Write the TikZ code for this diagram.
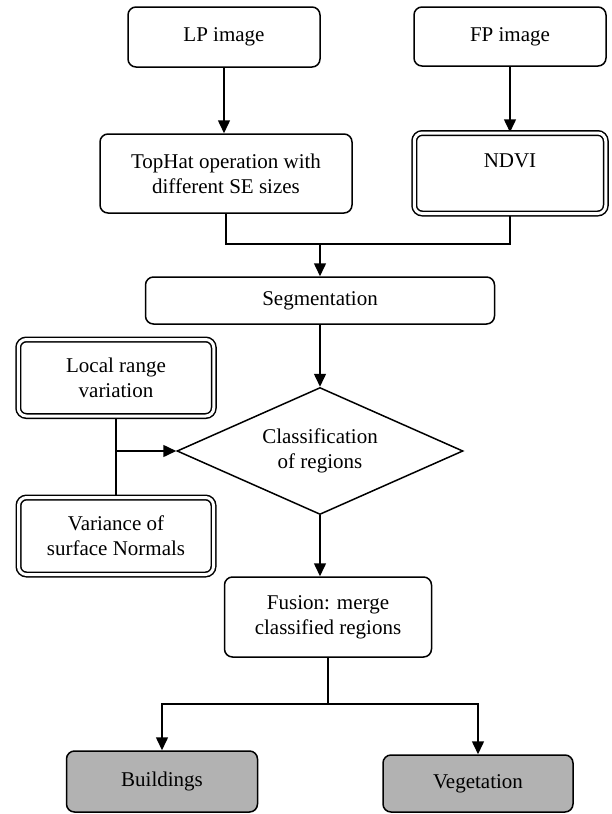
\documentclass[tikz,border=0pt]{standalone}
\usepackage{fontspec}
\setmainfont{Liberation Serif}
\usetikzlibrary{shapes.geometric,arrows.meta,backgrounds}
\begin{document}
\begin{tikzpicture}[x=1pt,y=-1pt,
  every node/.style={font=\fontsize{21}{25}\selectfont, inner sep=0pt, align=center},
  proc/.style={draw, fill=white, rounded corners=8pt, line width=1.5pt},
  dbl/.style={proc, double, double distance=3pt},
  res/.style={proc, fill=gray!60},
  conn/.style={line width=1.5pt},
  arr/.style={conn, -{Triangle[length=13pt,width=12pt]}}]
\useasboundingbox (0,0) rectangle (611,814);

\node[proc, minimum width=192pt, minimum height=60pt] (lp) at (224,37) {LP image};
\node[proc, minimum width=192pt, minimum height=59pt] (fp) at (510,36.5) {FP image};
\node[proc, minimum width=252pt, minimum height=79pt] (top) at (226,173.5) {TopHat operation with\\different SE sizes};
\node[dbl, minimum width=191.5pt, minimum height=80.5pt] (ndvi) at (510,173.25) {NDVI\\\mbox{}};
\node[proc, minimum width=349pt, minimum height=47pt] (seg) at (320,300.5) {Segmentation};
\node[dbl, minimum width=195.5pt, minimum height=76.5pt] (loc) at (116,377.75) {Local range\\variation};
\node[dbl, minimum width=195pt, minimum height=77pt] (var) at (116,536) {Variance of\\surface Normals};
\node[diamond, aspect=2.25, draw, fill=white, line width=1.5pt, minimum width=286pt, minimum height=127pt] (dia) at (320,451) {Classification\\of regions};
\node[proc, minimum width=207pt, minimum height=80pt] (fus) at (328,617) {Fusion: merge\\classified regions};
\node[res, minimum width=191pt, minimum height=61pt] (bld) at (162,781.5) {Buildings};
\node[res, minimum width=190pt, minimum height=57pt] (veg) at (478,783.5) {Vegetation};

\coordinate (j1) at (320,244);
\coordinate (j2) at (328,704);

\begin{pgfonlayer}{background}
\draw[arr] (lp.south) -- (lp.south |- top.north);
\draw[arr] (fp.south) -- (fp.south |- ndvi.north);
\draw[conn] (top.south) |- (j1) -| (ndvi.south);
\draw[arr] (j1) -- (seg.north);
\draw[arr] (seg.south) -- (dia.north);
\draw[conn] (loc.south) -- (var.north);
\draw[arr] (loc.south |- dia.west) -- (dia.west);
\draw[arr] (dia.south) -- (dia.south |- fus.north);
\draw[conn] (fus.south) -- (j2);
\draw[arr] (j2) -| (bld.north);
\draw[arr] (j2) -| (veg.north);
\end{pgfonlayer}
\end{tikzpicture}
\end{document}
